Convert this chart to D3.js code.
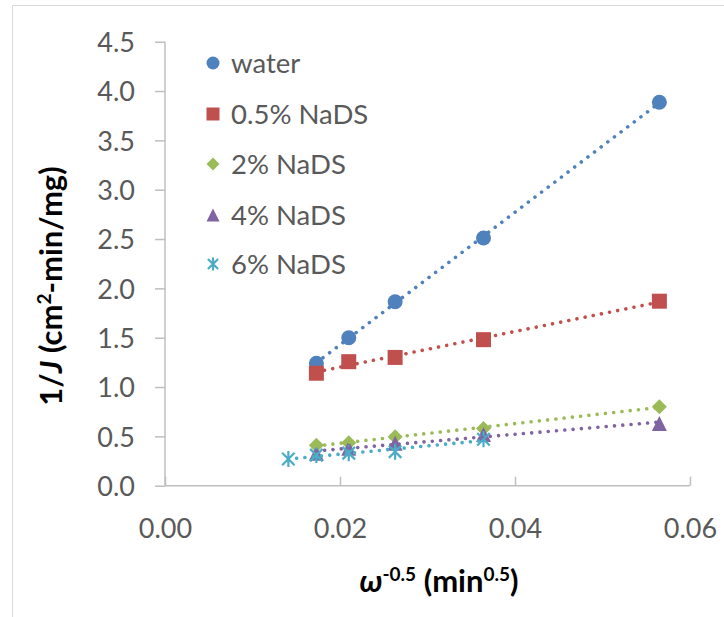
<!DOCTYPE html>
<html>
<head>
<meta charset="utf-8">
<script src="https://cdn.jsdelivr.net/npm/d3@7"></script>
<style>
  html, body { margin: 0; padding: 0; background: #fff; }
  svg { display: block; font-family: Lato, "Open Sans", sans-serif; }
</style>
</head>
<body>
<svg id="chart" width="724" height="617"></svg>
<script>
// Rotation-speed abscissa, omega^-0.5 (min^0.5)
const xWater = [0.0173, 0.0210, 0.0263, 0.0364, 0.0565];
const x6 = [0.0141, 0.0173, 0.0210, 0.0263, 0.0364];

// Reciprocal flux 1/J (cm2-min/mg) for each medium
const water  = [1.24, 1.50, 1.865, 2.51, 3.886];
const nads05 = [1.14, 1.257, 1.30, 1.48, 1.87];
const nads2  = [0.41, 0.436, 0.497, 0.58, 0.80];
const nads4  = [0.33, 0.38, 0.43, 0.52, 0.63];
const nads6  = [0.27, 0.31, 0.33, 0.345, 0.47];

const seriesNames = ["water", "0.5% NaDS", "2% NaDS", "4% NaDS", "6% NaDS"];
const seriesColors = ["#4F81BD", "#C0504D", "#9BBB59", "#8064A2", "#4BACC6"];
const seriesShapes = ["circle", "square", "diamond", "triangle", "star"];

const xTicks = [0, 0.02, 0.04, 0.06];
const yTicks = [0, 0.5, 1.0, 1.5, 2.0, 2.5, 3.0, 3.5, 4.0, 4.5];

const series = [
  { xs: xWater, ys: water },
  { xs: xWater, ys: nads05 },
  { xs: xWater, ys: nads2 },
  { xs: xWater, ys: nads4 },
  { xs: x6, ys: nads6 }
].map((s, i) => ({
  name: seriesNames[i], color: seriesColors[i], shape: seriesShapes[i],
  pts: s.xs.map((x, j) => ({ x, y: s.ys[j] }))
}));

const svg = d3.select("#chart");

// chart frame
svg.append("line").attr("x1", 12.5).attr("x2", 12.5).attr("y1", 5).attr("y2", 617)
  .attr("stroke", "#d9d9d9").attr("stroke-width", 1);
svg.append("line").attr("x1", 12).attr("x2", 724).attr("y1", 5.5).attr("y2", 5.5)
  .attr("stroke", "#d9d9d9").attr("stroke-width", 1);

const x = d3.scaleLinear().domain([0, 0.06]).range([165, 690]);
const y = d3.scaleLinear().domain([0, 4.5]).range([485.7, 41.7]);

const axisColor = "#bfbfbf";
const labelColor = "#595959";

// y axis
const yAxis = svg.append("g").attr("transform", `translate(${x(0)},0)`)
  .call(d3.axisLeft(y).tickValues(yTicks).tickSize(10).tickPadding(20)
    .tickFormat(d3.format(".1f")));
// x axis (ticks point into the plot)
const xAxis = svg.append("g").attr("transform", `translate(0,${y(0)})`)
  .call(d3.axisBottom(x).tickValues(xTicks).tickSize(-9).tickPadding(0)
    .tickFormat(d3.format(".2f")));

[yAxis, xAxis].forEach(g => {
  g.select(".domain").attr("stroke", axisColor).attr("stroke-width", 1.5);
  g.selectAll(".tick line").attr("stroke", axisColor).attr("stroke-width", 1.5);
  g.selectAll(".tick text").attr("fill", labelColor)
    .style("font-size", "27px").style("font-family", "Lato, 'Open Sans', sans-serif");
});
// plain axis lines without outer ticks
yAxis.select(".domain").attr("d", `M0,${y(4.5)}V${y(0)}`);
xAxis.select(".domain").attr("d", `M${x(0)},0H${x(0.06)}`);
xAxis.selectAll(".tick text").attr("y", 52).attr("dy", 0);
yAxis.selectAll(".tick text").attr("dy", "0.36em");

// least-squares trend lines
function fit(pts) {
  const mx = d3.mean(pts, p => p.x), my = d3.mean(pts, p => p.y);
  let sxy = 0, sxx = 0;
  pts.forEach(p => { sxy += (p.x - mx) * (p.y - my); sxx += (p.x - mx) ** 2; });
  const b = sxy / sxx, a = my - b * mx;
  const [x0, x1] = d3.extent(pts, p => p.x);
  return [{ x: x0, y: a + b * x0 }, { x: x1, y: a + b * x1 }];
}

const line = d3.line().x(d => x(d.x)).y(d => y(d.y));

function drawMarker(g, shape, color, cx, cy, s) {
  const r = s / 2;
  if (shape === "circle") {
    g.append("circle").attr("cx", cx).attr("cy", cy).attr("r", r).attr("fill", color);
  } else if (shape === "square") {
    g.append("rect").attr("x", cx - r).attr("y", cy - r).attr("width", s).attr("height", s)
      .attr("fill", color);
  } else if (shape === "diamond") {
    g.append("path").attr("d", `M${cx},${cy - r}L${cx + r},${cy}L${cx},${cy + r}L${cx - r},${cy}Z`)
      .attr("fill", color);
  } else if (shape === "triangle") {
    g.append("path").attr("d", `M${cx},${cy - r}L${cx + r},${cy + r}L${cx - r},${cy + r}Z`)
      .attr("fill", color);
  } else if (shape === "star") {
    const d = r * 0.78;
    g.append("path")
      .attr("d", `M${cx},${cy - r}V${cy + r}M${cx - d},${cy - d}L${cx + d},${cy + d}M${cx - d},${cy + d}L${cx + d},${cy - d}`)
      .attr("stroke", color).attr("stroke-width", 2.2).attr("fill", "none");
  }
}

const plot = svg.append("g");
series.forEach(s => {
  const g = plot.append("g");
  s.pts.forEach(p => drawMarker(g, s.shape, s.color, x(p.x), y(p.y), s.shape === "star" ? 16 : 15));
});
series.forEach(s => {
  plot.append("path").datum(fit(s.pts)).attr("d", line)
    .attr("fill", "none").attr("stroke", s.color).attr("stroke-width", 3.6)
    .attr("stroke-linecap", "round").attr("stroke-dasharray", "0.01 8.3");
});

// legend
const legend = svg.append("g");
const rowY = [63, 114, 164, 215, 264];
series.forEach((s, i) => {
  const g = legend.append("g");
  drawMarker(g, s.shape, s.color, 213, rowY[i], s.shape === "star" ? 13 : 13);
  g.append("text").attr("x", 231).attr("y", rowY[i]).attr("dy", "0.36em")
    .attr("fill", labelColor).style("font-size", "27.5px").text(s.name);
});

// axis titles
const yTitle = svg.append("text")
  .attr("transform", "translate(62,286) rotate(-90)")
  .attr("text-anchor", "middle").attr("fill", "#000")
  .style("font-size", "31px").style("font-weight", "bold");
yTitle.append("tspan").text("1/");
yTitle.append("tspan").style("font-style", "italic").text("J");
yTitle.append("tspan").text(" (cm");
yTitle.append("tspan").attr("baseline-shift", "super").style("font-size", "19px").text("2");
yTitle.append("tspan").text("-min/mg)");

const xTitle = svg.append("text")
  .attr("x", 439).attr("y", 592)
  .attr("text-anchor", "middle").attr("fill", "#000")
  .style("font-size", "31px").style("font-weight", "bold");
xTitle.append("tspan").style("font-style", "italic").text("ω");
xTitle.append("tspan").attr("baseline-shift", "super").style("font-size", "19px").text("-0.5");
xTitle.append("tspan").text(" (min");
xTitle.append("tspan").attr("baseline-shift", "super").style("font-size", "19px").text("0.5");
xTitle.append("tspan").text(")");
</script>
</body>
</html>
